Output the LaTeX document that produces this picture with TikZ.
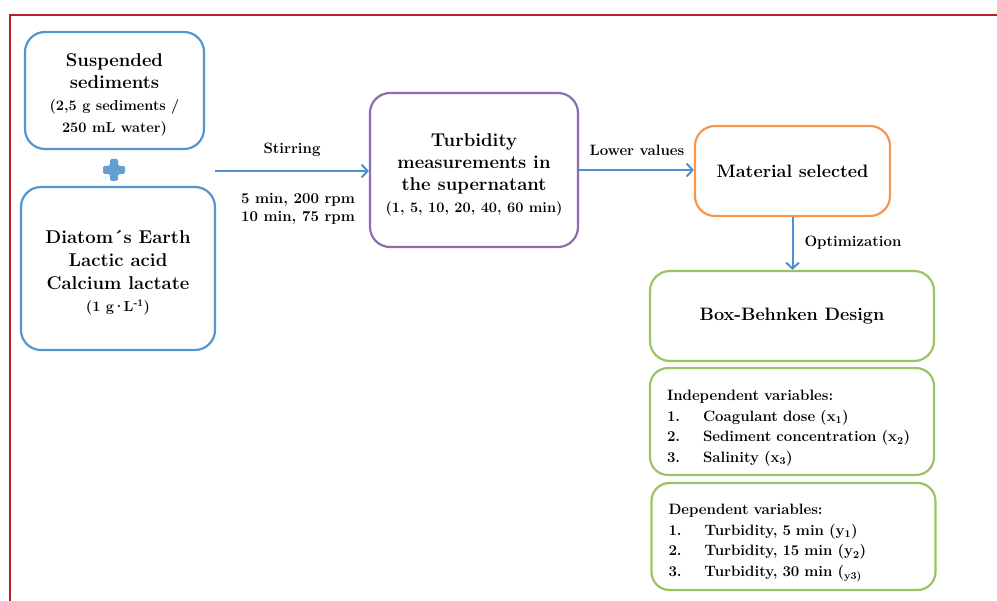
\documentclass[tikz,border=0pt]{standalone}
\usetikzlibrary{arrows.meta}
\definecolor{framered}{RGB}{180,35,40}
\definecolor{boxblue}{RGB}{84,150,207}
\definecolor{arrowblue}{RGB}{79,145,205}
\definecolor{boxpurple}{RGB}{140,110,175}
\definecolor{boxorange}{RGB}{247,150,80}
\definecolor{boxgreen}{RGB}{155,195,100}
\newcommand{\bigf}{\fontsize{18.5}{22}\selectfont}
\newcommand{\smallf}{\fontsize{14.5}{22}\selectfont}
\newcommand{\topstrut}{\rule{0pt}{22pt}}
\tikzset{
  flowbox/.style={draw, line width=2.2pt, rounded corners=20pt, fill=white, align=center,
     inner sep=4pt, font=\bfseries\bigf},
  listbox/.style={draw=boxgreen, line width=2.2pt, rounded corners=18pt, align=left,
     minimum width=284pt, minimum height=107pt, text width=250pt, inner xsep=17pt,
     font=\bfseries\fontsize{15}{20.5}\selectfont},
  flow/.style={draw=arrowblue, line width=2pt, -{Straight Barb[length=6pt,width=13pt,line width=2pt]}},
  lbl/.style={font=\bfseries\fontsize{15}{18}\selectfont, align=center},
  bigtext/.style={font=\bfseries\fontsize{18}{22}\selectfont}
}
\newcommand{\itm}[1]{\makebox[36pt][l]{#1}}
\begin{document}
\begin{tikzpicture}[x=1pt,y=-1pt]
\useasboundingbox (0,0) rectangle (997,601);
\draw[framered, line width=2pt] (10,601) -- (10,15) -- (997,15);

\node[flowbox, draw=boxblue, minimum width=179pt, minimum height=117pt] (susp) at (114.5,90.5)
  {\topstrut Suspended\\sediments\\\smallf (2,5 g sediments /\\\smallf 250 mL water)};

\fill[boxblue!90, rounded corners=1.5pt]
  (110,159) -- (118,159) -- (118,166) -- (125,166) -- (125,174) -- (118,174) -- (118,181)
  -- (110,181) -- (110,174) -- (103,174) -- (103,166) -- (110,166) -- cycle;

\node[flowbox, draw=boxblue, minimum width=194pt, minimum height=163pt] (diat) at (118,268.5)
  {\topstrut Diatom´s Earth\\[1pt]Lactic acid\\[1pt]Calcium lactate\\
   \smallf (1 g\kern-1.5pt\textperiodcentered\kern-1.5pt L\textsuperscript{-1})};

\node[flowbox, draw=boxpurple, minimum width=208pt, minimum height=154pt] (turb) at (474,170)
  {\topstrut Turbidity\\measurements in\\the supernatant\\
   \smallf (1, 5, 10, 20, 40, 60 min)};

\node[flowbox, draw=boxorange, minimum width=195pt, minimum height=90pt, bigtext] (mat) at (792.5,171)
  {Material selected};

\node[flowbox, draw=boxgreen, minimum width=284pt, minimum height=90pt, bigtext] (bbd) at (792,316)
  {Box-Behnken Design};

\node[listbox] (indep) at (792,421.5)
  {\rule{0pt}{24pt}Independent variables:\\
   \itm{1.}Coagulant dose (x\textsubscript{1})\\
   \itm{2.}Sediment concentration (x\textsubscript{2})\\
   \itm{3.}Salinity (x\textsubscript{3})};

\node[listbox] (dep) at (793.5,536.5)
  {\rule{0pt}{24pt}Dependent variables:\\
   \itm{1.}Turbidity, 5 min (y\textsubscript{1})\\
   \itm{2.}Turbidity, 15 min (y\textsubscript{2})\\
   \itm{3.}Turbidity, 30 min (\textsubscript{y3)}};

\coordinate (stir) at (215,171);
\draw[flow] (stir) -- (turb.west |- stir);
\node[lbl] (stirlbl) at (292,150) {Stirring};
\node[lbl] (rpm) at (298,209) {5 min, 200 rpm\\10 min, 75 rpm};

\draw[flow] (turb.east) -- (mat.west |- turb.east);
\node[lbl] (lowlbl) at (637,150) {Lower values};

\draw[flow] (mat.south) -- (mat.south |- bbd.north);
\node[lbl, anchor=west] (optlbl) at (801,243) {Optimization};
\end{tikzpicture}
\end{document}
